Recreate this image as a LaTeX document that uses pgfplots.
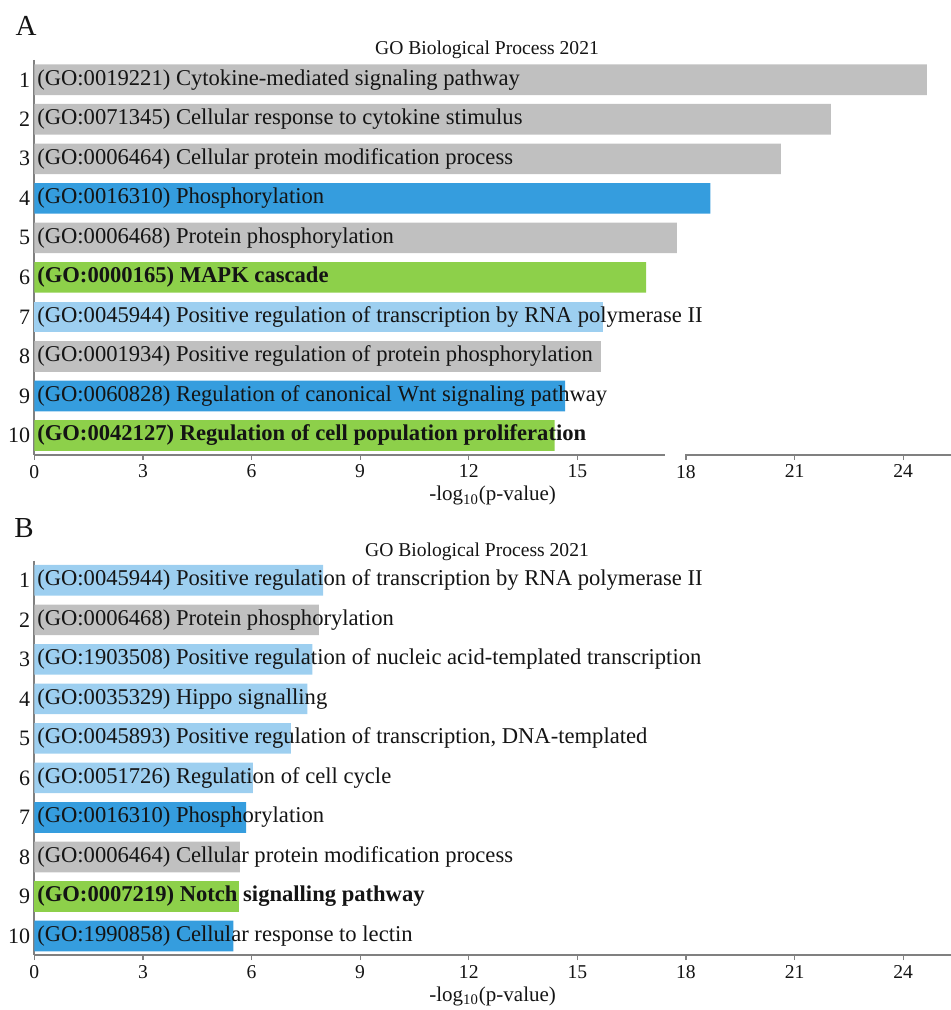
\documentclass[border=0pt]{standalone}
\usepackage{fontspec}
\setmainfont{Liberation Serif}
\usepackage{pgfplots}
\pgfplotsset{compat=1.18}
\definecolor{cgray}{RGB}{192,192,192}
\definecolor{cblue}{RGB}{53,157,222}
\definecolor{clblue}{RGB}{157,207,240}
\definecolor{cgreen}{RGB}{141,208,74}
\definecolor{axgray}{RGB}{128,128,128}
\definecolor{txt}{RGB}{20,20,20}
\pgfplotsset{goaxis/.style={
  scale only axis, width=458.35pt, height=197.25pt,
  xmin=0, xmax=25.32, ymin=0.5, ymax=10.48, y dir=reverse,
  axis x line=bottom, axis y line=left,
  axis line style={-, axgray, line width=1pt},
  xtick={0,3,...,24}, ytick={1,...,10},
  tick align=outside, major tick length=2.5pt,
  x tick style={axgray, line width=0.6pt},
  y tick style={draw=none},
  xbar, bar shift=0pt, bar width=15.3pt,
  /pgf/number format/assume math mode=true,
  x tick label style={font=\fontsize{9.8}{10}\selectfont, text=txt, yshift=0.8pt},
  y tick label style={font=\fontsize{11}{12}\selectfont, text=txt, xshift=4pt},
  xlabel={-log\textsubscript{10}(p-value)},
  xlabel style={font=\fontsize{10.5}{12}\selectfont, text=txt, yshift=2.8pt},
  every axis plot/.append style={draw=none},
  clip=false,
}}
\newcommand\lab[2]{\node[anchor=west, inner sep=0pt, font=\fontsize{11.3}{12}\selectfont, text=txt, xshift=1.3pt] at (axis cs:0,#1) {#2};}
\begin{document}
\begin{tikzpicture}
\useasboundingbox (0,0) rectangle (475.5pt,-505pt);
\node[font=\fontsize{14.5}{16}\selectfont, text=txt] at (13pt,-13pt) {A};
\node[font=\fontsize{14.5}{16}\selectfont, text=txt] at (12pt,-264pt) {B};
\node[font=\fontsize{9.8}{11}\selectfont, text=txt] at (243.5pt,-25pt) {GO Biological\ Process 2021};
\node[font=\fontsize{9.8}{11}\selectfont, text=txt] at (238.5pt,-276pt) {GO Biological\ Process 2021};
% Panel A
\begin{axis}[goaxis, at={(17.15pt,-227.25pt)}, anchor=south west]
\addplot[fill=cgray] coordinates {(24.65,1) (22.0,2) (20.62,3) (17.75,5) (15.65,8)};
\addplot[fill=cblue] coordinates {(18.67,4) (14.66,9)};
\addplot[fill=clblue] coordinates {(15.71,7)};
\addplot[fill=cgreen] coordinates {(16.90,6) (14.37,10)};
\lab{1}{(GO:0019221) Cytokine-mediated signaling pathway}
\lab{2}{(GO:0071345) Cellular response to cytokine stimulus}
\lab{3}{(GO:0006464) Cellular protein modification process}
\lab{4}{(GO:0016310) Phosphorylation}
\lab{5}{(GO:0006468) Protein phosphorylation}
\lab{6}{\bfseries (GO:0000165) MAPK cascade}
\lab{7}{(GO:0045944) Positive regulation of transcription by RNA polymerase II}
\lab{8}{(GO:0001934) Positive regulation of protein phosphorylation}
\lab{9}{(GO:0060828) Regulation of canonical Wnt signaling pathway}
\lab{10}{\bfseries (GO:0042127) Regulation of cell population proliferation}
\draw[white, line width=1.6pt] (axis cs:17.43,10.48) -- (axis cs:17.97,10.48);
\end{axis}
% Panel B
\begin{axis}[goaxis, at={(17.15pt,-477.5pt)}, anchor=south west]
\addplot[fill=cgray] coordinates {(7.86,2) (5.68,8)};
\addplot[fill=cblue] coordinates {(5.85,7) (5.50,10)};
\addplot[fill=clblue] coordinates {(7.98,1) (7.68,3) (7.54,4) (7.09,5) (6.04,6)};
\addplot[fill=cgreen] coordinates {(5.65,9)};
\lab{1}{(GO:0045944) Positive regulation of transcription by RNA polymerase II}
\lab{2}{(GO:0006468) Protein phosphorylation}
\lab{3}{(GO:1903508) Positive regulation of nucleic acid-templated transcription}
\lab{4}{(GO:0035329) Hippo signalling}
\lab{5}{(GO:0045893) Positive regulation of transcription, DNA-templated}
\lab{6}{(GO:0051726) Regulation of cell cycle}
\lab{7}{(GO:0016310) Phosphorylation}
\lab{8}{(GO:0006464) Cellular protein modification process}
\lab{9}{\bfseries (GO:0007219) Notch signalling pathway}
\lab{10}{(GO:1990858) Cellular response to lectin}
\end{axis}
\end{tikzpicture}
\end{document}
